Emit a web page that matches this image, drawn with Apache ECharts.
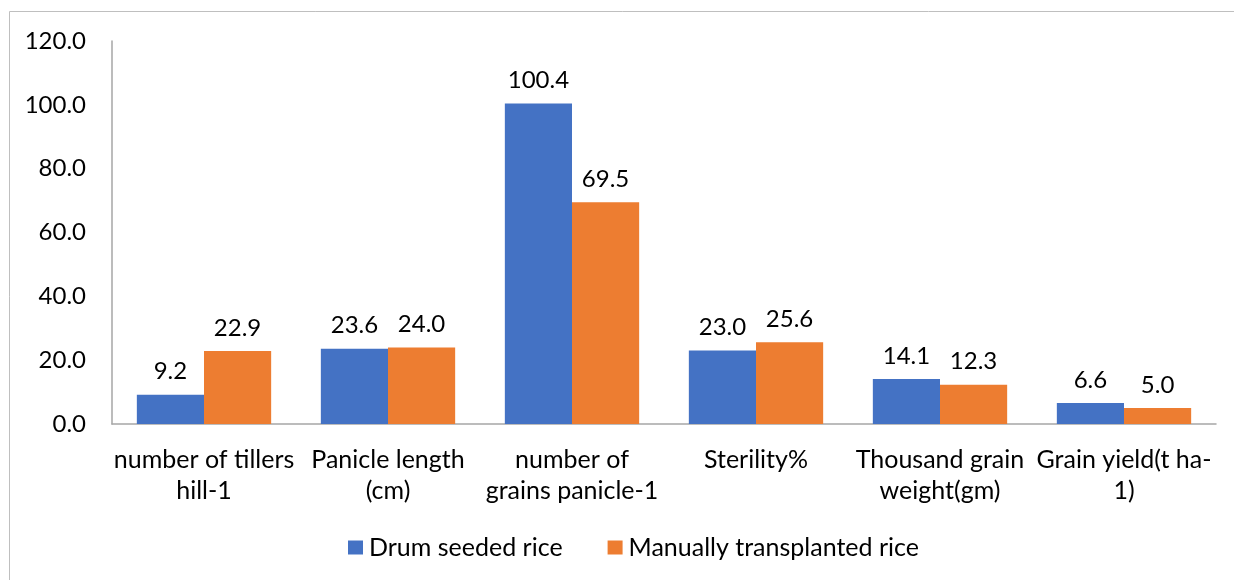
<!DOCTYPE html>
<html>
<head>
<meta charset="utf-8">
<script src="https://cdn.jsdelivr.net/npm/echarts@6/dist/echarts.min.js"></script>
<style>
  html, body { margin: 0; padding: 0; background: #fff; }
  #chart { width: 1234px; height: 580px; }
</style>
</head>
<body>
<div id="chart"></div>
<script>
// categories (wrapped the way the original labels wrap)
const categories = [
  'number of tillers\nhill-1',
  'Panicle length\n(cm)',
  'number of\ngrains panicle-1',
  'Sterility%',
  'Thousand grain\nweight(gm)',
  'Grain yield(t ha-\n1)'
];
const seriesNames = ['Drum seeded rice', 'Manually transplanted rice'];
const drumSeeded = [9.2, 23.6, 100.4, 23.0, 14.1, 6.6];
const transplanted = [22.9, 24.0, 69.5, 25.6, 12.3, 5.0];
const colors = ['#4472C4', '#ED7D31'];

const font = 'Lato, "Open Sans", sans-serif';
const chart = echarts.init(document.getElementById('chart'));

const makeSeries = (name, data, color) => ({
  name: name,
  type: 'bar',
  data: data,
  barGap: '0%',
  barCategoryGap: '27%',
  itemStyle: { color: color },
  label: {
    show: true,
    position: 'top',
    distance: 11,
    color: '#000',
    fontFamily: font,
    fontSize: 24,
    formatter: (p) => p.value.toFixed(1)
  }
});

const option = {
  animation: false,
  graphic: [{
    type: 'rect',
    shape: { x: 9.5, y: 11.5, width: 1400, height: 800 },
    style: { fill: 'none', stroke: '#bfbfbf', lineWidth: 1 },
    silent: true
  }],
  grid: { left: 112, right: 18, top: 41, bottom: 156 },
  legend: {
    bottom: 15,
    left: 343,
    itemWidth: 15,
    itemHeight: 14,
    itemGap: 45,
    icon: 'rect',
    textStyle: { color: '#000', fontFamily: font, fontSize: 25, padding: [0, 0, 0, 1] },
    data: seriesNames
  },
  xAxis: {
    type: 'category',
    data: categories,
    axisLine: { lineStyle: { color: '#a6a6a6', width: 1.5 } },
    axisTick: { show: false },
    axisLabel: {
      interval: 0,
      margin: 20,
      color: '#000',
      fontFamily: font,
      fontSize: 25,
      lineHeight: 31,
      align: 'center'
    }
  },
  yAxis: {
    type: 'value',
    min: 0,
    max: 120,
    interval: 20,
    axisLine: { show: true, lineStyle: { color: '#a6a6a6', width: 1.5 } },
    axisTick: { show: false },
    splitLine: { show: false },
    axisLabel: {
      margin: 26,
      color: '#000',
      fontFamily: font,
      fontSize: 24,
      formatter: (v) => v.toFixed(1)
    }
  },
  series: [
    makeSeries(seriesNames[0], drumSeeded, colors[0]),
    makeSeries(seriesNames[1], transplanted, colors[1])
  ]
};

chart.setOption(option);
</script>
</body>
</html>
